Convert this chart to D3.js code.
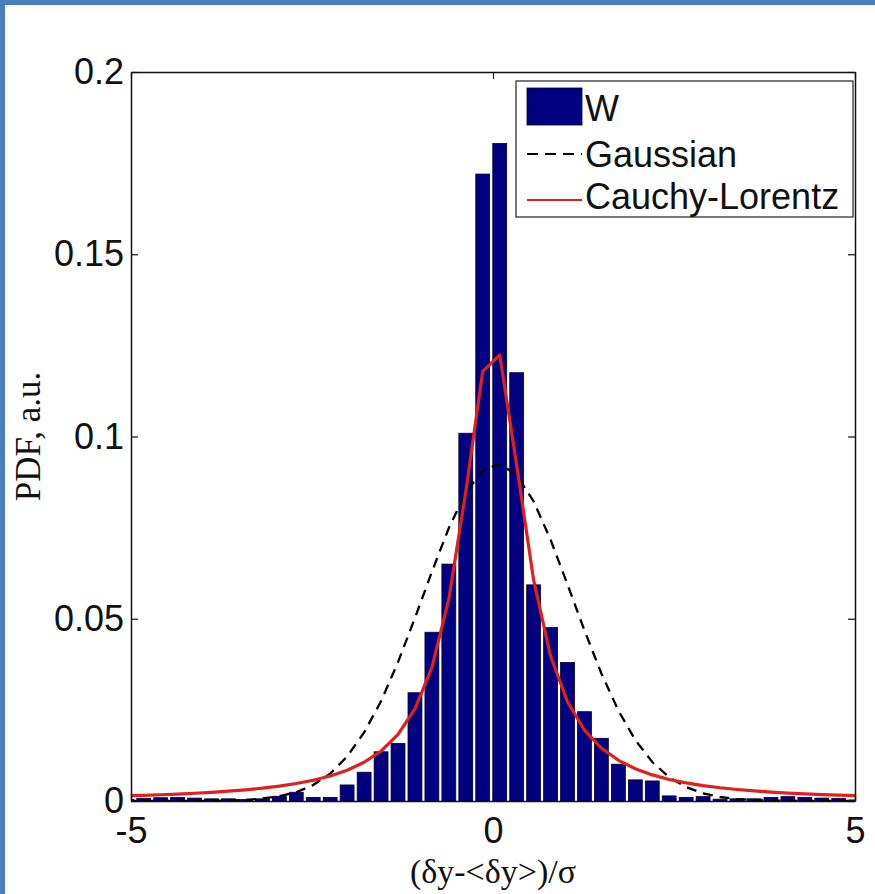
<!DOCTYPE html>
<html>
<head>
<meta charset="utf-8">
<script src="https://cdn.jsdelivr.net/npm/d3@7"></script>
<style>
  html, body { margin: 0; padding: 0; background: #ffffff; }
  svg { display: block; }
  .tick text { font-family: "Liberation Sans", Arial, sans-serif; font-size: 36px; fill: #111; }
</style>
</head>
<body>
<svg id="chart" width="875" height="894"></svg>
<script>
// Histogram bin centres (normalised deviation) and their probability mass
const binCenters = [
  -5.058, -4.824, -4.590, -4.356, -4.122, -3.887, -3.653, -3.419, -3.185, -2.951, -2.717,
  -2.483, -2.249, -2.015, -1.780, -1.546, -1.312, -1.078, -0.844, -0.610, -0.376, -0.142,
   0.093,  0.327,  0.561,  0.795,  1.029,  1.263,  1.497,  1.732,  1.966,  2.200,  2.434,
   2.668,  2.902,  3.136,  3.370,  3.605,  3.839,  4.073,  4.307,  4.541,  4.775,  5.009
];
const binWidth = 0.234;

const pdfW = [
  0.0004, 0.0007, 0.0009, 0.0010, 0.0008, 0.0006, 0.0006, 0.0004, 0.0006, 0.0013, 0.0024,
  0.0010, 0.0010, 0.0044, 0.0079, 0.0135, 0.0158, 0.0297, 0.0463, 0.0650, 0.1009, 0.1720,
  0.1804, 0.1175, 0.0593, 0.0476, 0.0380, 0.0245, 0.0172, 0.0101, 0.0058, 0.0055, 0.0014,
  0.0010, 0.0012, 0.0005, 0.0006, 0.0006, 0.0010, 0.0012, 0.0010, 0.0008, 0.0007, 0.0003
];

// Fitted curves sampled at the bin centres
const gaussianFit = [
  0.0000, 0.0000, 0.0000, 0.0000, 0.0000, 0.0001, 0.0001, 0.0003, 0.0007, 0.0013, 0.0024,
  0.0044, 0.0075, 0.0122, 0.0188, 0.0274, 0.0381, 0.0502, 0.0629, 0.0749, 0.0846, 0.0907,
  0.0925, 0.0894, 0.0822, 0.0717, 0.0594, 0.0468, 0.0350, 0.0248, 0.0167, 0.0107, 0.0065,
  0.0038, 0.0021, 0.0011, 0.0005, 0.0003, 0.0001, 0.0001, 0.0000, 0.0000, 0.0000, 0.0000
];

const lorentzFit = [
  0.00142, 0.00156, 0.00172, 0.00191, 0.00213, 0.00239, 0.00269, 0.00307, 0.00352, 0.00408, 0.00479,
  0.00569, 0.00687, 0.00845, 0.01062, 0.01370, 0.01825, 0.02528, 0.03660, 0.05536, 0.08485, 0.11786,
  0.12240, 0.09220, 0.06060, 0.03978, 0.02721, 0.01947, 0.01451, 0.01116, 0.00884, 0.00716, 0.00591,
  0.00496, 0.00422, 0.00363, 0.00315, 0.00277, 0.00244, 0.00218, 0.00195, 0.00176, 0.00159, 0.00145
];

const xTicks = [-5, 0, 5];
const yTicks = [0, 0.05, 0.1, 0.15, 0.2];
const legendItems = ["W", "Gaussian", "Cauchy-Lorentz"];

const svg = d3.select("#chart");

// page frame
svg.append("rect").attr("x", 0).attr("y", 0).attr("width", 875).attr("height", 5).attr("fill", "#4a7ebb");
svg.append("rect").attr("x", 0).attr("y", 0).attr("width", 5).attr("height", 894).attr("fill", "#4a7ebb");

const pL = 131, pR = 855, pT = 72, pB = 801;
const x = d3.scaleLinear().domain([-5, 5]).range([pL, pR]);
const y = d3.scaleLinear().domain([0, 0.2]).range([pB, pT]);

svg.append("defs").append("clipPath").attr("id", "plotClip")
  .append("rect").attr("x", pL).attr("y", pT).attr("width", pR - pL).attr("height", pB - pT);

const plot = svg.append("g").attr("clip-path", "url(#plotClip)");

// histogram bars
const barW = x(binWidth * 0.82) - x(0);
plot.append("g").selectAll("rect")
  .data(binCenters.map((c, i) => ({ c, v: pdfW[i] })))
  .join("rect")
  .attr("x", d => x(d.c) - barW / 2)
  .attr("width", barW)
  .attr("y", d => y(d.v))
  .attr("height", d => y(0) - y(d.v))
  .attr("fill", "#000080")
  .attr("stroke", "#000033")
  .attr("stroke-width", 0.8);

const line = d3.line().x(d => x(d[0])).y(d => y(d[1]));

// Gaussian fit
plot.append("path")
  .datum(binCenters.map((c, i) => [c, gaussianFit[i]]))
  .attr("d", line)
  .attr("fill", "none")
  .attr("stroke", "#000")
  .attr("stroke-width", 2.3)
  .attr("stroke-dasharray", "10,7");

// Cauchy-Lorentz fit
plot.append("path")
  .datum(binCenters.map((c, i) => [c, lorentzFit[i]]))
  .attr("d", line)
  .attr("fill", "none")
  .attr("stroke", "#e0201c")
  .attr("stroke-width", 3.2)
  .attr("stroke-linejoin", "round");

// axes (ticks point inward, box on all four sides)
const fmtY = d => d === 0 ? "0" : String(d);
const styleAxis = g => {
  g.select(".domain").attr("stroke", "#111").attr("stroke-width", 1.5);
  g.selectAll(".tick line").attr("stroke", "#111").attr("stroke-width", 1.2);
};

svg.append("g").attr("transform", `translate(${pL},0)`)
  .call(d3.axisLeft(y).tickValues(yTicks).tickFormat(fmtY).tickSize(-7).tickSizeOuter(0).tickPadding(7))
  .call(styleAxis)
  .call(g => g.selectAll(".tick text").attr("font-family", null).attr("font-size", null));

svg.append("g").attr("transform", `translate(${pR},0)`)
  .call(d3.axisRight(y).tickValues(yTicks).tickFormat("").tickSize(-7).tickSizeOuter(0))
  .call(styleAxis);

svg.append("g").attr("transform", `translate(0,${pB})`)
  .call(d3.axisBottom(x).tickValues(xTicks).tickFormat(d => String(d)).tickSize(-7).tickSizeOuter(0).tickPadding(16))
  .call(styleAxis)
  .call(g => g.selectAll(".tick text").attr("font-family", null).attr("font-size", null).attr("dy", "0.72em"));

svg.append("g").attr("transform", `translate(0,${pT})`)
  .call(d3.axisTop(x).tickValues(xTicks).tickFormat("").tickSize(-7).tickSizeOuter(0))
  .call(styleAxis);

// axis titles
svg.append("text")
  .attr("x", (pL + pR) / 2).attr("y", 883)
  .attr("text-anchor", "middle")
  .attr("font-family", "'Liberation Serif', 'Times New Roman', serif")
  .attr("font-size", 34).attr("fill", "#111")
  .text("(δy-<δy>)/σ");

svg.append("text")
  .attr("transform", `translate(40,${(pT + pB) / 2}) rotate(-90)`)
  .attr("text-anchor", "middle")
  .attr("font-family", "'Liberation Serif', 'Times New Roman', serif")
  .attr("font-size", 35).attr("fill", "#111")
  .text("PDF, a.u.");

// legend
const lg = svg.append("g");
lg.append("rect").attr("x", 516).attr("y", 81).attr("width", 337).attr("height", 136)
  .attr("fill", "#fff").attr("stroke", "#222").attr("stroke-width", 1.2);

const textBase = [121, 167, 209];
const sx0 = 527, sx1 = 582, tx = 585;
lg.append("rect").attr("x", sx0).attr("y", 88).attr("width", sx1 - sx0).attr("height", 37)
  .attr("fill", "#000080").attr("stroke", "#000033").attr("stroke-width", 0.8);
lg.append("line").attr("x1", sx0).attr("x2", sx1).attr("y1", 154).attr("y2", 154)
  .attr("stroke", "#000").attr("stroke-width", 2).attr("stroke-dasharray", "11,7");
lg.append("line").attr("x1", sx0).attr("x2", sx1).attr("y1", 200).attr("y2", 200)
  .attr("stroke", "#e0201c").attr("stroke-width", 2);

lg.selectAll("text.lab").data(legendItems).join("text")
  .attr("class", "lab")
  .attr("x", tx).attr("y", (d, i) => textBase[i])
  .attr("font-family", "'Liberation Sans', Arial, sans-serif")
  .attr("font-size", 36).attr("fill", "#111")
  .text(d => d);
</script>
</body>
</html>
